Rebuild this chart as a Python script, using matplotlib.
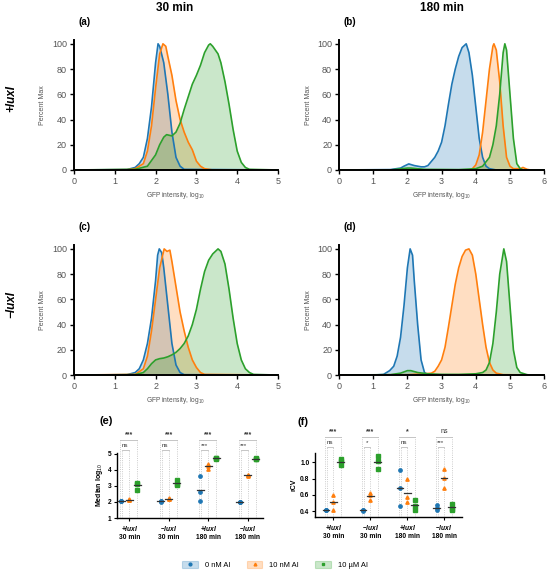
import matplotlib.pyplot as plt
from matplotlib.patches import Patch
from matplotlib.lines import Line2D

plt.rcParams["font.family"] = "sans-serif"
plt.rcParams["font.sans-serif"] = ["Liberation Sans", "DejaVu Sans"]
plt.rcParams["mathtext.fontset"] = "custom"

blue, orange, green = "#1f77b4", "#ff7f0e", "#2ca02c"
colors = [blue, orange, green]
markers = ["o", "^", "s"]
labels = ["0 nM AI", "10 nM AI", "10 \u00b5M AI"]

# ---- histograms (x = log10 GFP, y = percent max)
# (a) +luxI 30 min
a_blue_x = [0, 1.3, 1.5, 1.6, 1.7, 1.8, 1.9, 2.0, 2.06, 2.1, 2.2, 2.3, 2.4, 2.5, 2.6, 2.7, 5]
a_blue_y = [0, 0.3, 2, 5, 10, 25, 50, 85, 100, 98, 85, 60, 30, 10, 3, 0.5, 0]
a_orange_x = [0, 1.3, 1.5, 1.7, 1.8, 1.9, 2.0, 2.1, 2.18, 2.25, 2.3, 2.4, 2.5, 2.6, 2.7, 2.8, 2.9, 3.0, 3.1, 3.2, 3.4, 5]
a_orange_y = [0, 0.2, 1, 5, 15, 35, 65, 92, 100, 98, 90, 75, 55, 40, 30, 22, 16, 7, 3, 1, 0, 0]
a_green_x = [0, 1.5, 1.8, 2.0, 2.1, 2.2, 2.27, 2.4, 2.5, 2.6, 2.7, 2.8, 2.9, 3.0, 3.1, 3.2, 3.3, 3.34, 3.4, 3.53, 3.6, 3.7, 3.8, 3.9, 4.0, 4.1, 4.2, 4.3, 5]
a_green_y = [0, 0.5, 3, 12, 20, 26, 28, 27, 30, 37, 48, 58, 68, 75, 83, 93, 99, 100, 98, 92, 85, 70, 52, 32, 15, 6, 2, 0.5, 0]

# (b) +luxI 180 min
b_blue_x = [0, 1.5, 1.8, 1.9, 2.04, 2.2, 2.4, 2.5, 2.6, 2.8, 2.9, 3.0, 3.1, 3.2, 3.3, 3.4, 3.5, 3.6, 3.72, 3.8, 3.9, 4.0, 4.1, 4.2, 4.3, 4.4, 4.6, 6]
b_blue_y = [0, 0.3, 1.5, 3, 4.8, 3.5, 2.5, 2.5, 3.5, 10, 15, 22, 35, 52, 68, 80, 90, 97, 100, 93, 75, 50, 25, 10, 3, 1, 0, 0]
b_orange_x = [0, 3.8, 3.9, 4.0, 4.1, 4.2, 4.3, 4.4, 4.5, 4.53, 4.6, 4.7, 4.8, 4.9, 5.0, 5.1, 5.3, 5.38, 5.5, 5.6, 6]
b_orange_y = [0, 0, 1, 4, 12, 30, 55, 80, 98, 100, 95, 70, 35, 10, 3, 1, 1, 2, 0.5, 0, 0]
b_green_x = [0, 1.5, 2.0, 2.1, 2.5, 3.5, 4.0, 4.2, 4.4, 4.5, 4.6, 4.7, 4.8, 4.85, 4.9, 5.0, 5.1, 5.2, 5.3, 5.4, 6]
b_green_y = [0, 0, 1.5, 1.5, 0.5, 0.3, 1, 3, 10, 20, 35, 60, 93, 100, 95, 60, 25, 5, 1, 0, 0]

# (c) -luxI 30 min
c_blue_x = [0, 1.3, 1.5, 1.6, 1.7, 1.8, 1.9, 2.0, 2.05, 2.09, 2.15, 2.2, 2.3, 2.4, 2.5, 2.6, 2.7, 5]
c_blue_y = [0, 0.3, 2, 5, 12, 25, 45, 75, 95, 100, 97, 85, 55, 25, 8, 2, 0.3, 0]
c_orange_x = [0, 1.5, 1.7, 1.8, 1.9, 2.0, 2.1, 2.21, 2.28, 2.35, 2.4, 2.5, 2.6, 2.7, 2.8, 2.9, 3.0, 3.1, 3.2, 5]
c_orange_y = [0, 0.5, 5, 15, 35, 60, 85, 100, 98, 99, 90, 70, 50, 35, 22, 12, 6, 2, 0.5, 0]
c_green_x = [0, 1.5, 1.7, 1.8, 1.9, 2.0, 2.1, 2.2, 2.3, 2.4, 2.5, 2.6, 2.7, 2.8, 2.9, 3.0, 3.1, 3.2, 3.3, 3.4, 3.53, 3.6, 3.7, 3.8, 3.9, 4.0, 4.1, 4.2, 4.3, 4.4, 5]
c_green_y = [0, 0.3, 2, 5, 9, 12, 13, 13.5, 14.5, 16, 18, 21, 25, 31, 40, 52, 68, 82, 91, 96, 100, 98, 88, 68, 45, 25, 12, 5, 2, 0.5, 0]

# (d) -luxI 180 min
d_blue_x = [0, 1.0, 1.3, 1.48, 1.6, 1.7, 1.8, 1.9, 2.0, 2.08, 2.15, 2.2, 2.3, 2.4, 2.5, 2.6, 6]
d_blue_y = [0, 0, 0.5, 3.5, 7, 15, 30, 55, 85, 100, 95, 75, 40, 12, 2, 0.3, 0]
d_orange_x = [0, 2.0, 2.5, 2.7, 2.8, 2.9, 3.0, 3.1, 3.2, 3.3, 3.4, 3.5, 3.6, 3.7, 3.8, 3.9, 4.0, 4.1, 4.2, 4.3, 4.4, 4.5, 4.6, 4.8, 6]
d_orange_y = [0, 0.3, 1, 1.5, 3, 7, 12, 22, 38, 55, 72, 85, 94, 99, 100, 95, 80, 60, 40, 22, 10, 4, 1.5, 0.3, 0]
d_green_x = [0, 1.5, 1.8, 2.0, 2.1, 2.3, 2.6, 3.0, 3.5, 4.0, 4.2, 4.3, 4.4, 4.5, 4.6, 4.7, 4.82, 4.9, 5.0, 5.1, 5.2, 5.3, 5.5, 5.6, 6]
d_green_y = [0, 0.3, 1.5, 3.5, 3.5, 2, 1, 0.5, 0.5, 1, 2, 4, 10, 25, 50, 80, 100, 90, 55, 20, 6, 2, 0.3, 0, 0]

# ---- summary panels: 4 conditions x 3 AI levels, 3 replicates each
cond_labels = ["+$\\mathbfit{luxI}$\n30 min", "\u2212$\\mathbfit{luxI}$\n30 min",
               "+$\\mathbfit{luxI}$\n180 min", "\u2212$\\mathbfit{luxI}$\n180 min"]
median_vals = [
    [[2.03, 2.05, 2.07], [2.1, 2.13, 2.18], [3.2, 3.15, 2.75]],
    [[2.02, 2.04, 2.05], [2.17, 2.2, 2.22], [3.35, 3.1, 3.05]],
    [[3.6, 2.6, 2.07], [4.38, 4.22, 4.04], [4.77, 4.72, 4.7]],
    [[1.97, 2.0, 2.01], [3.7, 3.65, 3.6], [4.75, 4.7, 4.66]],
]
median_sig = [("***", "ns"), ("***", "ns"), ("***", "***"), ("***", "***")]
rcv_vals = [
    [[0.41, 0.42, 0.415], [0.6, 0.515, 0.415], [1.04, 1.01, 0.96]],
    [[0.41, 0.42, 0.405], [0.62, 0.6, 0.54], [1.08, 1.01, 0.92]],
    [[0.91, 0.69, 0.47], [0.79, 0.58, 0.51], [0.54, 0.47, 0.41]],
    [[0.48, 0.44, 0.41], [0.92, 0.81, 0.68], [0.49, 0.43, 0.42]],
]
rcv_sig = [("***", "ns"), ("***", "*"), ("*", "ns"), ("ns", "***")]

fig = plt.figure(figsize=(5.5, 5.7), dpi=100)

tick_gray = "#555555"


def hist_panel(rect, curves, xmax, tag):
    ax = fig.add_axes(rect)
    for (x, y), c in zip(curves, colors):
        ax.fill_between(x, y, color=c, alpha=0.25, lw=0)
        ax.plot(x, y, color=c, lw=1.2)
    ax.set_xlim(0, xmax)
    ax.set_ylim(0, 103)
    ax.set_yticks([0, 20, 40, 60, 80, 100])
    ax.set_xticks(range(xmax + 1))
    for s in ["top", "right"]:
        ax.spines[s].set_visible(False)
    for s in ["left", "bottom"]:
        ax.spines[s].set_linewidth(1.4)
    ax.tick_params(labelsize=6.5, length=3, width=1, colors="black", labelcolor=tick_gray, pad=2)
    ax.set_ylabel("Percent Max", fontsize=5, color=tick_gray, labelpad=4)
    ax.set_xlabel("GFP intensity, log$_{10}$", fontsize=4.8, color=tick_gray, labelpad=3)
    ax.text(0.02, 1.14, tag, transform=ax.transAxes, fontsize=7, fontweight="bold", va="center")
    return ax


axa = hist_panel([0.1345, 0.7018, 0.371, 0.228],
                 [(a_blue_x, a_blue_y), (a_orange_x, a_orange_y), (a_green_x, a_green_y)], 5, "(a)")
axb = hist_panel([0.6164, 0.7018, 0.373, 0.228],
                 [(b_blue_x, b_blue_y), (b_orange_x, b_orange_y), (b_green_x, b_green_y)], 6, "(b)")
axc = hist_panel([0.1345, 0.342, 0.371, 0.228],
                 [(c_blue_x, c_blue_y), (c_orange_x, c_orange_y), (c_green_x, c_green_y)], 5, "(c)")
axd = hist_panel([0.6164, 0.342, 0.373, 0.228],
                 [(d_blue_x, d_blue_y), (d_orange_x, d_orange_y), (d_green_x, d_green_y)], 6, "(d)")

fig.text(0.318, 0.986, "30 min", ha="center", va="center", fontsize=8.5, fontweight="bold")
fig.text(0.804, 0.986, "180 min", ha="center", va="center", fontsize=8.5, fontweight="bold")
fig.text(0.02, 0.828, "+luxI", rotation=90, ha="center", va="center", fontsize=8.5,
         fontweight="bold", style="italic")
fig.text(0.02, 0.465, "\u2212luxI", rotation=90, ha="center", va="center", fontsize=8.5,
         fontweight="bold", style="italic")


def dot_panel(rect, vals, sig, ylim, yticks, ylabel, xlim, tag, b1, b2, yfmt):
    ax = fig.add_axes(rect)
    lo, hi = ylim
    span = hi - lo
    for g, group in enumerate(vals):
        base = g * 5
        for k, pts in enumerate(group):
            xp = base + k
            ax.plot([xp] * len(pts), pts, ls="", marker=markers[k], ms=2.4,
                    color=colors[k], mec=colors[k], clip_on=False, zorder=3)
            m = sum(pts) / len(pts)
            ax.plot([xp - 0.45, xp + 0.45], [m, m], color="#333333", lw=0.9, zorder=4)
        # brackets
        top = lo + span * b1
        low = lo + span * b2
        lc = "#bbbbbb"
        for xp in (base - 0.12, base + 2):
            ax.plot([xp, xp], [lo, top], ls=":", color=lc, lw=0.6, clip_on=False)
        ax.plot([base - 0.12, base + 2], [top, top], color=lc, lw=0.6, clip_on=False)
        for xp in (base + 0.12, base + 1):
            ax.plot([xp, xp], [lo, low], ls=":", color=lc, lw=0.6, clip_on=False)
        ax.plot([base + 0.12, base + 1], [low, low], color=lc, lw=0.6, clip_on=False)
        w0 = "bold" if "*" in sig[g][0] else "normal"
        ax.text(base + 1, top + span * 0.03, sig[g][0], ha="center", va="bottom",
                fontsize=5, fontweight=w0, color="#333333")
        ax.text(base + 0.5, low + span * 0.03, sig[g][1], ha="center", va="bottom",
                fontsize=4.5, color="#333333")
    ax.set_xlim(*xlim)
    ax.set_ylim(*ylim)
    ax.set_yticks(yticks)
    ax.set_yticklabels([yfmt.format(v) for v in yticks])
    ax.set_xticks([1, 6, 11, 16])
    ax.set_xticklabels(cond_labels)
    for s in ["top", "right"]:
        ax.spines[s].set_visible(False)
    for s in ["left", "bottom"]:
        ax.spines[s].set_linewidth(1.0)
    ax.tick_params(labelsize=4.8, length=2.5, width=0.8, pad=1.5)
    for t in ax.get_xticklabels() + ax.get_yticklabels():
        t.set_fontweight("bold")
    ax.set_ylabel(ylabel, fontsize=5, fontweight="bold", labelpad=2)
    ax.text(-0.12, 1.49, tag, transform=ax.transAxes, fontsize=8, fontweight="bold", va="center")
    return ax


axe = dot_panel([0.2127, 0.0912, 0.265, 0.114], median_vals, median_sig, (1, 5.05),
                [1, 2, 3, 4, 5], "Median log$_{10}$", (-0.55, 17.9), "(e)", 1.2, 1.05, "{:g}")
axf = dot_panel([0.5727, 0.093, 0.267, 0.112], rcv_vals, rcv_sig, (0.33, 1.11),
                [0.4, 0.6, 0.8, 1.0], "rCV", (-1.5, 18.4), "(f)", 1.25, 1.1, "{:.1f}")

handles = []
for c, m in zip(colors, markers):
    handles.append((Patch(facecolor=c, alpha=0.25, edgecolor=c, lw=0.8),
                    Line2D([], [], ls="", marker=m, ms=2, color=c)))
fig.legend(handles, labels, loc="lower center", bbox_to_anchor=(0.5, -0.01), ncol=3,
           frameon=False, fontsize=5.4, handlelength=2.1, handleheight=1.0,
           handletextpad=0.9, columnspacing=2.2)

fig.savefig("out.png", dpi=100)
